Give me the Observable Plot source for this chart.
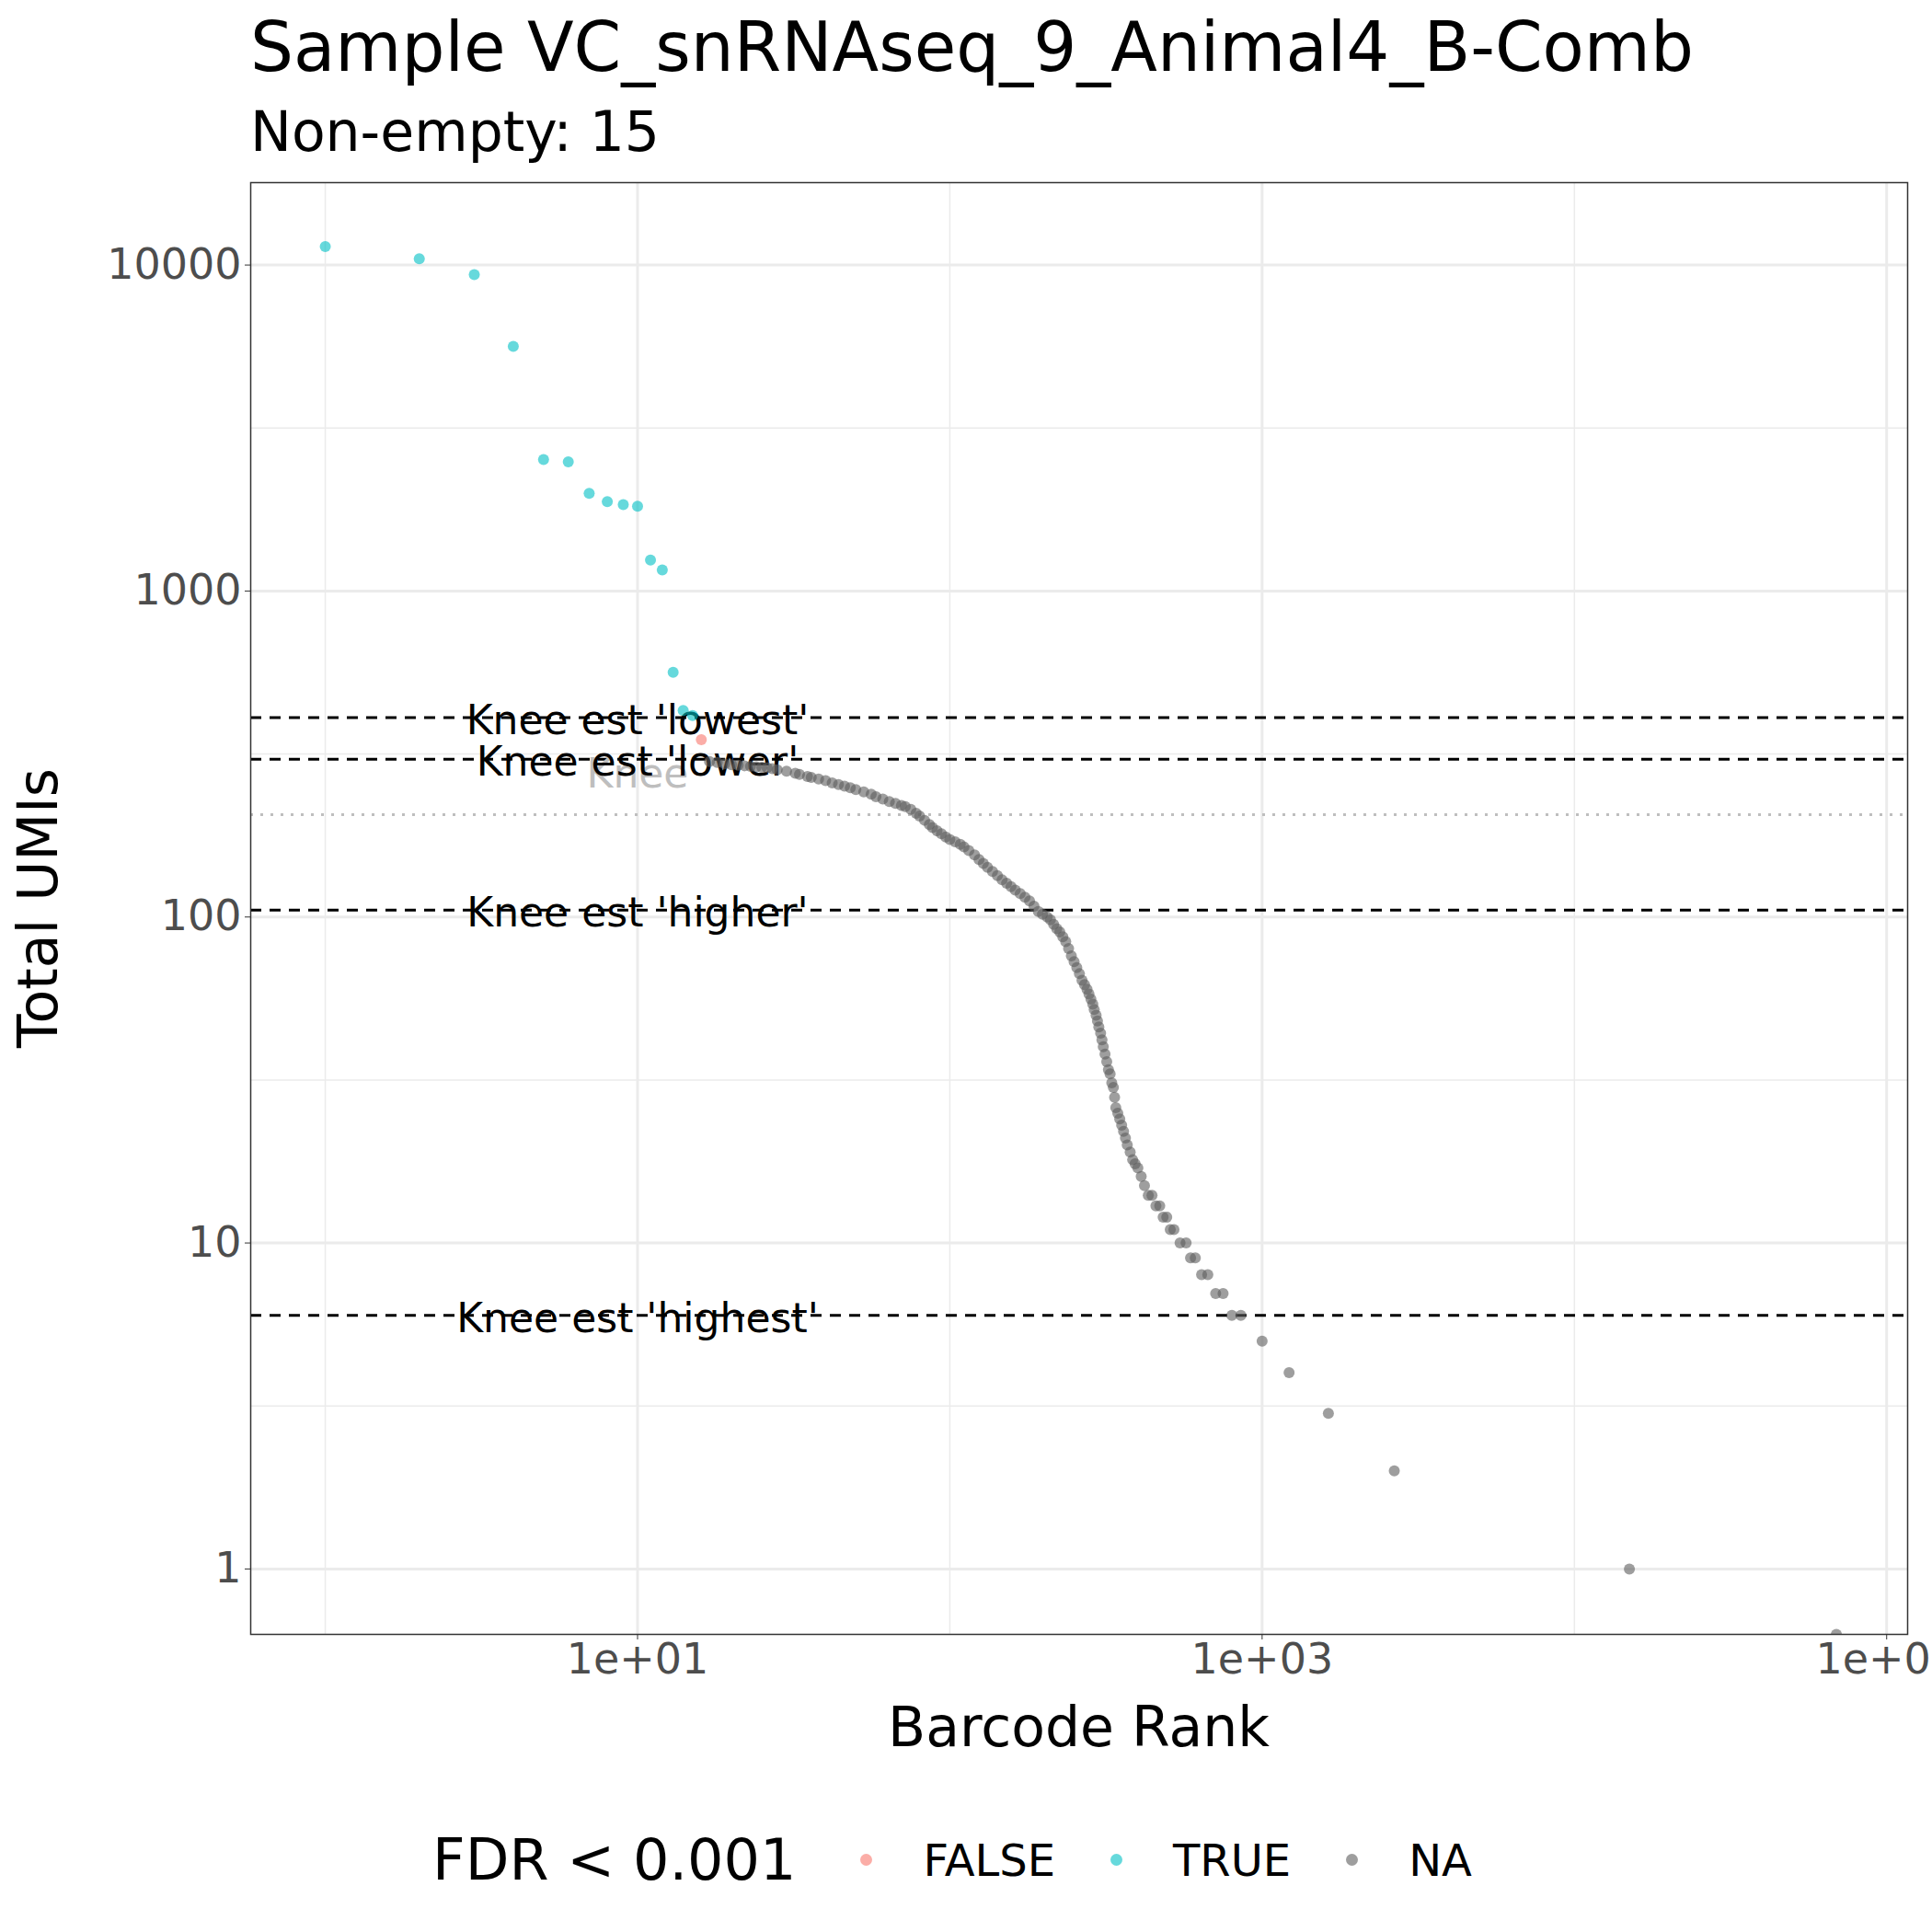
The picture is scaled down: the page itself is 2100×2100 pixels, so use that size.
<!DOCTYPE html>
<html><head><meta charset="utf-8">
<script src="https://cdn.jsdelivr.net/npm/d3@7"></script>
<script src="https://cdn.jsdelivr.net/npm/@observablehq/plot@0.6"></script>
<style>
body{margin:0;background:#fff;font-family:"DejaVu Sans",sans-serif;}
#wrap{position:relative;width:2100px;height:2100px;overflow:hidden;}
#title{position:absolute;left:272px;top:8px;font-size:74px;color:#000;}
#sub{position:absolute;left:272px;top:108px;font-size:60px;color:#000;}
#legend{position:absolute;top:1985px;left:0;width:2100px;display:flex;justify-content:center;align-items:center;font-size:48px;}
#legend .t{font-size:62px;margin-right:40px;}
#legend .k{display:flex;align-items:center;margin:0 30px;}
#legend .d{width:13px;height:13px;border-radius:50%;margin-right:55px;}
</style></head>
<body><div id="wrap">
<div id="chart"></div>
<div id="title">Sample VC_snRNAseq_9_Animal4_B-Comb</div>
<div id="sub">Non-empty: 15</div>
<div id="legend"></div>
</div>
<script>
// cells called TRUE (FDR < 0.001)
const trueRank = [1,2,3,4,5,6,7,8,9,10,11,12,13,14,15];
const trueUMI = [11400,10450,9350,5630,2530,2490,1995,1880,1840,1820,1245,1160,563,430,415];
// FALSE
const falseRank = [16];
const falseUMI = [350];
// NA (ambient, not tested)
const naRank = [17,18,19,20,21,22,23,24,25,26,27,28,30,32,33,35,36,38,40,42,44,46,48,50,53,56,58,61,64,67,70,72,75,78,80,83,86,88,91,94,97,100,104,108,111,115,120,124,128,132,137,142,147,152,157,162,168,174,180,186,192,198,205,210,215,220,225,230,235,240,245,250,255,260,265,270,275,279,283,287,290,294,297,300,304,307,310,314,318,322,326,330,334,337,340,345,350,355,360,365,370,378,385,392,400,410,420,432,444,457,470,482,495,508,522,546,571,590,611,640,670,710,750,800,855,1000,1220,1630,2650,15000,69000];
const naUMI = [300,298,295,293,292,291,290,289,288,287,285,283,280,276,274,270,268,265,262,258,255,252,249,246,242,238,234,230,226,223,220,218,214,208,204,198,192,188,184,180,176,173,170,167,164,160,155,150,146,142,138,134,130,127,124,121,118,115,112,108,104,102,100,98,95,92,90,87,84,80,76,73,70,67,64,62,60,58,56,54,52,50,48,46,44,42,40,38,36,34,33,31,30,28,26,25,24,23,22,21,20,19,18,17.5,17,16,15,14,14,13,13,12,12,11,11,10,10,9,9,8,8,7,7,6,6,5,4,3,2,1,0.63];
// knee estimates
const kneeNames = ["Knee est 'lowest'","Knee est 'lower'","Knee est 'higher'","Knee est 'highest'"];
const kneeVals = [409,305,105,6];
const kneeVal = 206;

const cols = {FALSE:"#F8766D", TRUE:"#00BFC4", NA:"#5E5E5E"};
const pts = [
  ...trueRank.map((r,i)=>({rank:r,umi:trueUMI[i],g:"TRUE"})),
  ...falseRank.map((r,i)=>({rank:r,umi:falseUMI[i],g:"FALSE"})),
  ...naRank.map((r,i)=>({rank:r,umi:naUMI[i],g:"NA"}))
];
const knees = kneeNames.map((n,i)=>({n,v:kneeVals[i]}));

const xMaj=[10,1000,100000], xMin=[1,100,10000];
const yMaj=[1,10,100,1000,10000], yMin=[3.162,31.62,316.2,3162];
const xf = d=>d3.format(".0e")(d).replace("e+","e+0");

const plot = Plot.plot({
  width:2100, height:2100,
  marginLeft:272, marginRight:27, marginTop:198, marginBottom:324,
  style:{fontFamily:"DejaVu Sans", fontSize:"48px", color:"#4D4D4D", background:"#fff", overflow:"visible"},
  x:{type:"log", domain:[0.577,116700], label:null},
  y:{type:"log", domain:[0.63,17900], label:null},
  marks:[
    Plot.ruleX(xMin,{stroke:"#EBEBEB",strokeWidth:1.5}),
    Plot.ruleY(yMin,{stroke:"#EBEBEB",strokeWidth:1.5}),
    Plot.ruleX(xMaj,{stroke:"#EBEBEB",strokeWidth:3}),
    Plot.ruleY(yMaj,{stroke:"#EBEBEB",strokeWidth:3}),
    Plot.axisX({ticks:xMaj,tickFormat:xf,tickSize:6,tickPadding:4,fontSize:46,stroke:"#333",label:null}),
    Plot.axisY({ticks:yMaj,tickFormat:d=>String(d),tickSize:6,tickPadding:4,fontSize:46,stroke:"#333",label:null}),
    Plot.ruleY(knees,{y:"v",stroke:"#000",strokeWidth:3,strokeDasharray:"12,9"}),
    Plot.ruleY([kneeVal],{stroke:"#BEBEBE",strokeWidth:3,strokeDasharray:"3,8"}),
    Plot.text(["Knee"],{x:10,y:kneeVal,dy:-44,text:d=>d,fill:"#BEBEBE",fontSize:44}),
    Plot.text(knees,{x:10,y:"v",text:"n",fill:"#000",fontSize:44,dy:4}),
    Plot.dot(pts,{x:"rank",y:"umi",r:6,fill:d=>cols[d.g],fillOpacity:0.6,stroke:"none",clip:true}),
    Plot.frame({stroke:"#333",strokeWidth:1.5})
  ]
});
document.getElementById("chart").appendChild(plot);
// x/y axis titles
const svg = d3.select(plot);
svg.append("text").attr("x",(272+2073)/2).attr("y",1898).attr("text-anchor","middle")
  .attr("font-size",60).attr("fill","#000").attr("font-family","DejaVu Sans").text("Barcode Rank");
svg.append("text").attr("transform",`translate(62,${(198+1776)/2}) rotate(-90)`).attr("text-anchor","middle")
  .attr("font-size",60).attr("fill","#000").attr("font-family","DejaVu Sans").text("Total UMIs");

const lg = document.getElementById("legend");
lg.innerHTML = `<span class="t">FDR &lt; 0.001</span>` +
  ["FALSE","TRUE","NA"].map(k=>`<span class="k"><span class="d" style="background:${cols[k]};opacity:.6"></span>${k}</span>`).join("");
</script>
</body></html>
